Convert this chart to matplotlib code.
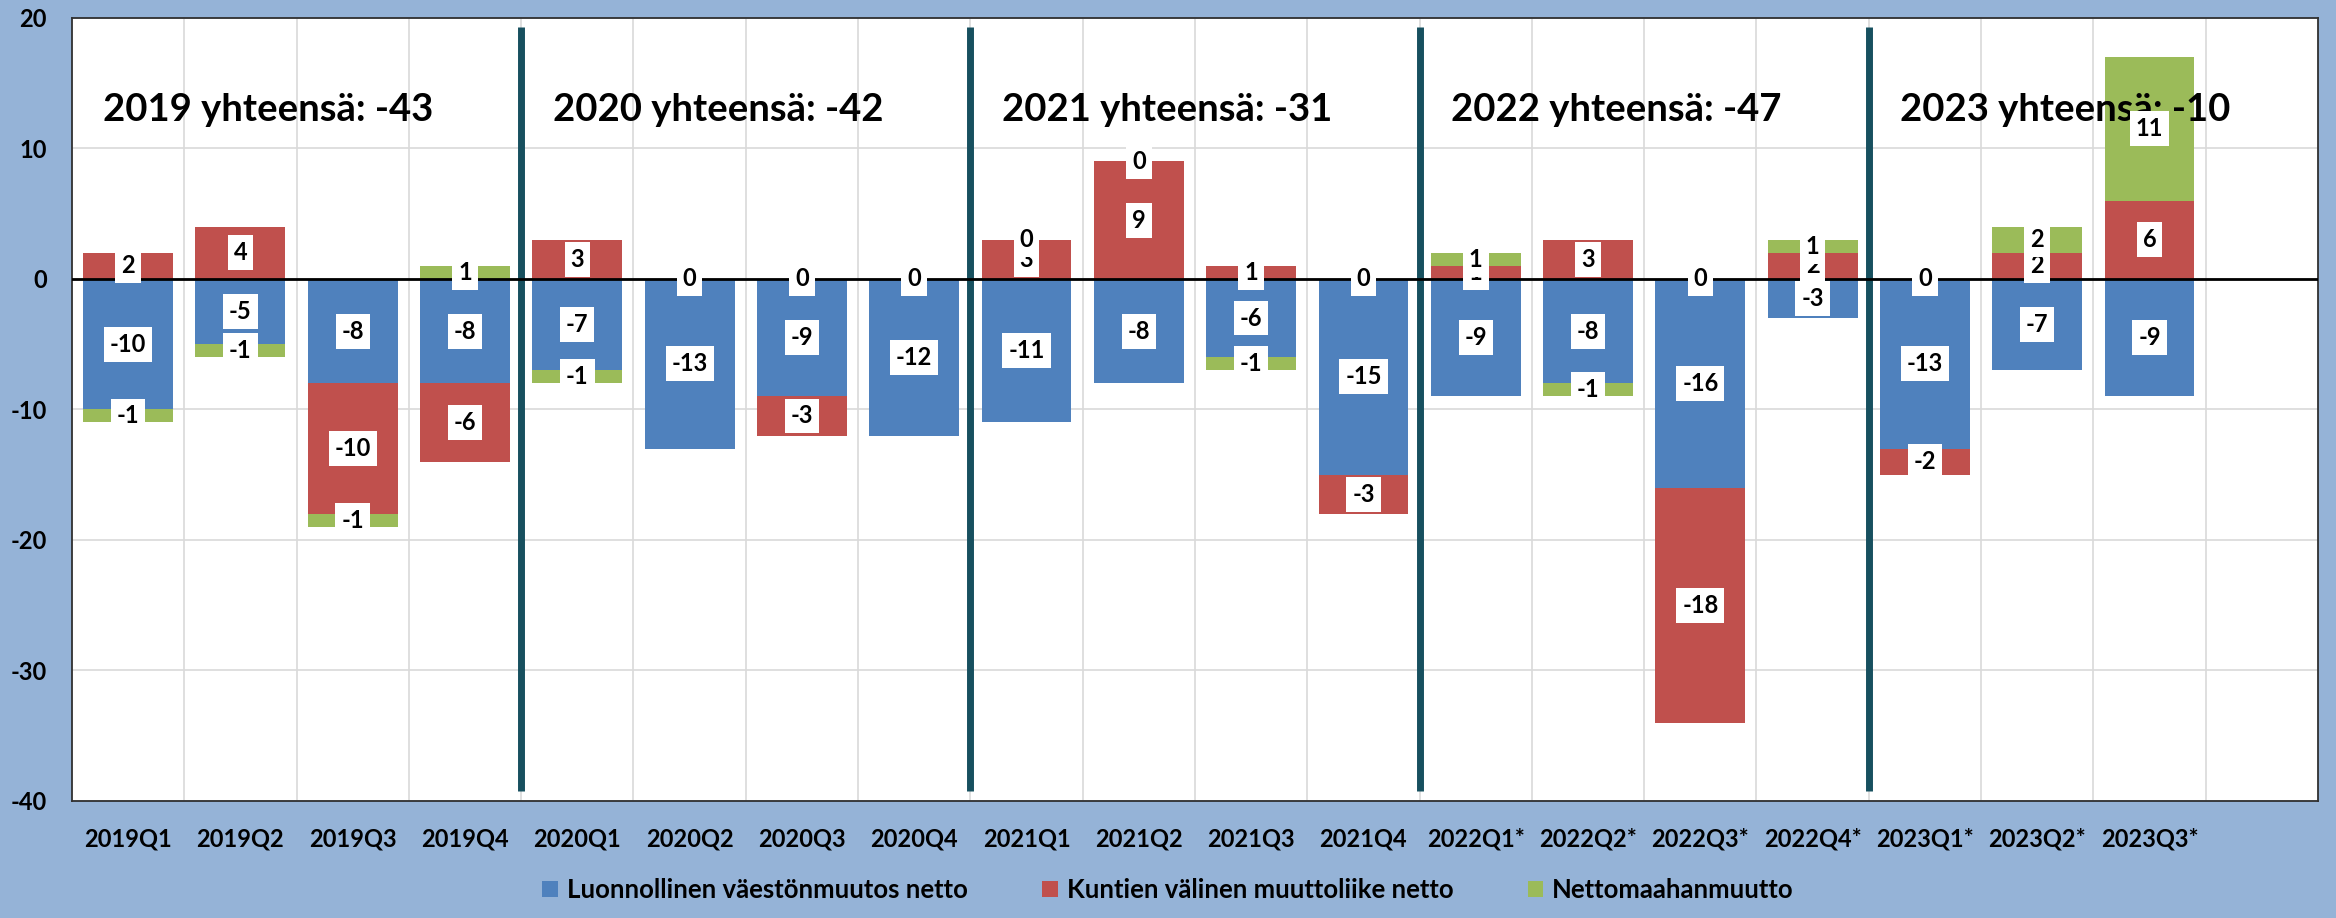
import numpy as np
import matplotlib

matplotlib.use("Agg")
import matplotlib.pyplot as plt

quarters = [
    "2019Q1", "2019Q2", "2019Q3", "2019Q4",
    "2020Q1", "2020Q2", "2020Q3", "2020Q4",
    "2021Q1", "2021Q2", "2021Q3", "2021Q4",
    "2022Q1*", "2022Q2*", "2022Q3*", "2022Q4*",
    "2023Q1*", "2023Q2*", "2023Q3*",
]
natural = [-10, -5, -8, -8, -7, -13, -9, -12, -11, -8, -6, -15, -9, -8, -16, -3, -13, -7, -9]
municipal = [2, 4, -10, -6, 3, 0, -3, 0, 3, 9, 1, -3, 1, 3, -18, 2, -2, 2, 6]
immigration = [-1, -1, -1, 1, -1, 0, 0, 0, 0, 0, -1, 0, 1, -1, 0, 1, 0, 2, 11]
years = ["2019", "2020", "2021", "2022", "2023"]
series_names = [
    "Luonnollinen väestönmuutos netto",
    "Kuntien välinen muuttoliike netto",
    "Nettomaahanmuutto",
]
colors = ["#4F81BD", "#C0504D", "#9BBB59"]

plt.rcParams["font.family"] = ["Lato", "DejaVu Sans"]
plt.rcParams["font.weight"] = "bold"
plt.rcParams["axes.unicode_minus"] = False

fig = plt.figure(figsize=(23.36, 9.18), dpi=100, facecolor="#95B3D7")
ax = fig.add_axes([0.0308, 0.1275, 0.9615, 0.853])
ax.set_facecolor("white")

x = np.arange(len(quarters))
pos = np.zeros(len(x))
neg = np.zeros(len(x))
label_style = dict(
    fontsize=17, fontweight="bold", color="black", zorder=6,
    bbox=dict(boxstyle="square,pad=0.25", fc="white", ec="none"),
)
for vals, color, name in zip([natural, municipal, immigration], colors, series_names):
    v = np.array(vals, dtype=float)
    bottom = np.where(v >= 0, pos, neg)
    bars = ax.bar(x, v, 0.8, bottom=bottom, color=color, label=name, zorder=2)
    pos += np.where(v >= 0, v, 0)
    neg += np.where(v < 0, v, 0)
    ax.bar_label(bars, labels=[str(val) for val in vals], label_type="center", **label_style)

# year totals
for k, yr in enumerate(years):
    idx = [i for i, q in enumerate(quarters) if q.startswith(yr)]
    total = sum(natural[i] + municipal[i] + immigration[i] for i in idx)
    ax.text(4 * k - 0.22, 12.1, f"{yr} yhteensä: {total}", fontsize=27.5, fontweight="bold",
            ha="left", va="baseline", zorder=5)

# year dividers and zero line
ax.vlines([3.5, 7.5, 11.5, 15.5], -39.2, 19.3, color="#17505F", lw=5, zorder=3)
ax.axhline(0, color="black", lw=2, zorder=3)

ax.set_xlim(-0.5, 19.5)
ax.set_ylim(-40, 20)
ax.set_yticks(np.arange(-40, 21, 10))
ax.set_xticks(x)
ax.set_xticklabels(quarters)
ax.set_xticks(np.arange(0.5, 19.5, 1), minor=True)
ax.tick_params(axis="both", which="both", length=0, labelsize=17)
ax.tick_params(axis="x", pad=19)
ax.tick_params(axis="y", pad=18)
ax.set_axisbelow(True)
ax.yaxis.grid(True, color="#D9D9D9", lw=1.2)
ax.xaxis.grid(True, which="minor", color="#D9D9D9", lw=1.2)
for s in ax.spines.values():
    s.set_color("#303030")
    s.set_linewidth(1.3)

fig.legend(loc="center", bbox_to_anchor=(0.5, 28 / 918), ncol=3, frameon=False,
           fontsize=18.5, handlelength=0.6, handleheight=0.6, handletextpad=0.35,
           columnspacing=2.9)

fig.savefig("out.png", dpi=100, facecolor=fig.get_facecolor())
